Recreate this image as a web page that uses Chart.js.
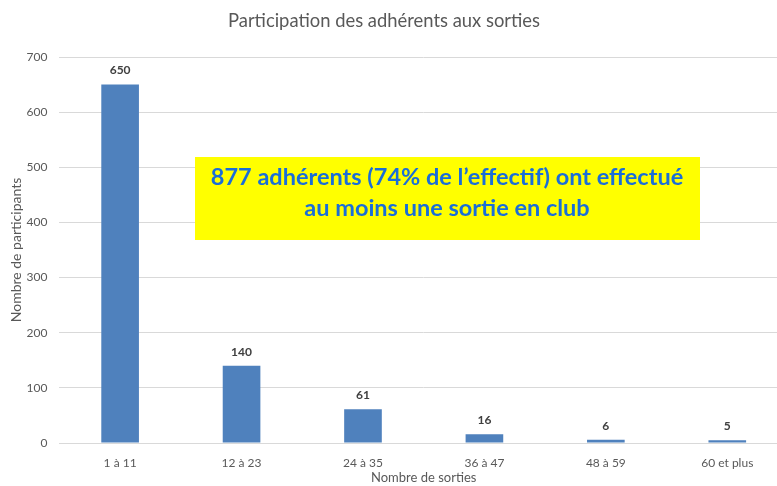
<!DOCTYPE html>
<html>
<head>
<meta charset="utf-8">
<script src="https://cdn.jsdelivr.net/npm/chart.js@4/dist/chart.umd.min.js"></script>
<style>
html,body{margin:0;padding:0;background:#fff;overflow:hidden;width:777px;height:486px;}
#wrap{position:relative;width:788px;height:486px;}
</style>
</head>
<body>
<div id="wrap"><canvas id="c" width="788" height="486"></canvas></div>
<script>
const categories = ["1 à 11", "12 à 23", "24 à 35", "36 à 47", "48 à 59", "60 et plus"];
const participants = [650, 140, 61, 16, 6, 5];
const yTicks = [0, 100, 200, 300, 400, 500, 600, 700];
const chartTitle = "Participation des adhérents aux sorties";
const xTitle = "Nombre de sorties";
const yTitle = "Nombre de participants";
const calloutLines = ["877 adhérents (74% de l’effectif) ont effectué", "au moins une sortie en club"];

const FONT = "Lato, 'Open Sans', sans-serif";

const labelPlugin = {
  id: 'labels',
  afterDatasetsDraw(chart) {
    const ctx = chart.ctx;
    const meta = chart.getDatasetMeta(0);
    ctx.save();
    ctx.font = "bold 12px " + FONT;
    ctx.fillStyle = "#404040";
    ctx.textAlign = "center";
    ctx.textBaseline = "middle";
    meta.data.forEach((bar, i) => {
      ctx.fillText(String(participants[i]), bar.x, bar.y - 14);
    });
    ctx.restore();
  },
  afterDraw(chart) {
    const ctx = chart.ctx;
    ctx.save();
    // title
    ctx.font = "18.4px " + FONT;
    ctx.fillStyle = "#595959";
    ctx.textAlign = "center";
    ctx.textBaseline = "middle";
    ctx.fillText(chartTitle, 384, 21);
    // callout
    ctx.fillStyle = "#ffff00";
    ctx.fillRect(195, 157, 505, 83);
    ctx.font = "bold 23.5px " + FONT;
    ctx.fillStyle = "#1a6ed8";
    ctx.fillText(calloutLines[0], 447, 177);
    ctx.fillText(calloutLines[1], 447, 208);
    ctx.restore();
  }
};

new Chart(document.getElementById('c'), {
  type: 'bar',
  data: {
    labels: categories,
    datasets: [{
      data: participants,
      backgroundColor: '#4f81bd',
      borderWidth: 0,
      categoryPercentage: 1,
      barPercentage: 0.31
    }]
  },
  options: {
    responsive: false,
    animation: false,
    devicePixelRatio: 1,
    layout: { padding: { top: 57, left: 0, right: 0, bottom: 0 } },
    plugins: { legend: { display: false }, title: { display: false }, tooltip: { enabled: false } },
    scales: {
      x: {
        grid: { display: false, drawTicks: false },
        border: { display: true, color: '#d9d9d9', width: 1 },
        ticks: { padding: 13, color: '#595959', font: { family: FONT, size: 12 } },
        title: { display: true, text: xTitle, color: '#595959', font: { family: FONT, size: 13 }, padding: { top: 0, bottom: 0 } },
        afterFit(s) { s.height = 43; }
      },
      y: {
        min: 0, max: 700,
        afterBuildTicks(s) { s.ticks = yTicks.map(v => ({ value: v })); },
        grid: { color: '#d9d9d9', drawTicks: false },
        border: { display: false },
        ticks: { padding: 12, color: '#595959', font: { family: FONT, size: 12 } },
        title: { display: true, text: yTitle, color: '#595959', font: { family: FONT, size: 14 }, padding: { top: 8, bottom: 0 } },
        afterFit(s) { s.width = 59.4; }
      }
    }
  },
  plugins: [labelPlugin]
});
</script>
</body>
</html>
